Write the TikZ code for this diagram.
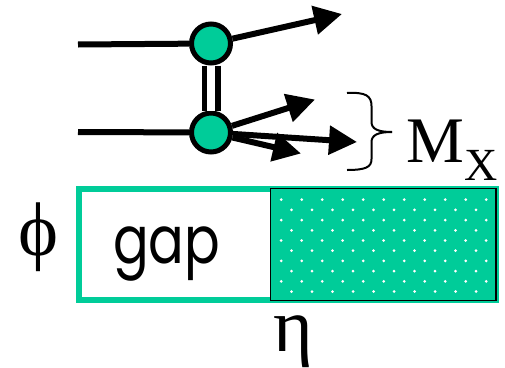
\documentclass[tikz,border=0pt]{standalone}
\usepackage{fontspec}
\setmainfont{Liberation Serif}
\newfontfamily\gapfont{Poppins}
\usetikzlibrary{arrows.meta}
\definecolor{jade}{RGB}{0,204,153}
\begin{document}
\begin{tikzpicture}[x=1pt,y=-1pt,
  vtx/.style={circle,draw=black,fill=jade,line width=5pt,minimum size=39pt,inner sep=0pt},
  leg/.style={line width=6pt},
  outarrow/.style={line width=6pt,-{Triangle[length=28pt,width=28pt]}},
  exch/.style={line width=5.5pt,double=white,double distance=8pt},
  lbl/.style={inner sep=0pt,anchor=base west}]
\useasboundingbox (0,0) rectangle (505,367);
% box
\fill[jade] (270.5,188.5) rectangle (496,300.5);
\begin{scope}
\clip (271,189) rectangle (495.5,300);
\foreach \r in {0,...,10}{
  \pgfmathsetmacro{\yy}{189.5+\r*10.2}
  \pgfmathsetmacro{\xo}{mod(\r,2)==0 ? 291.5 : 281.2}
  \foreach \c in {0,...,10}{
    \fill[white] (\xo+\c*20.5,\yy) circle (1.5pt);
  }
}
\end{scope}
\draw[jade,line width=6pt] (79,188.5) rectangle (496,300);
\draw[black,line width=1.5pt] (270.5,188.5) rectangle (496,300.5);
% vertices
\node[vtx] (v1) at (211,43.5) {};
\node[vtx] (v2) at (211,132.5) {};
\coordinate (in1) at (78,44.5);
\coordinate (in2) at (78,132);
\coordinate (t1) at (342,14);
\coordinate (t2) at (315,99.5);
\coordinate (t3) at (357,142);
\coordinate (t4) at (301,153.5);
\draw[leg] (in1) -- (v1);
\draw[leg] (in2) -- (v2);
\draw[exch] (v1) -- (v2);
\draw[outarrow] (v1) -- (t1);
\draw[outarrow] (v2) -- (t2);
\draw[outarrow] (v2) -- (t3);
\draw[outarrow] (v2) -- (t4);
% brace
\draw[line width=2pt] (347,93) .. controls (366,92) and (371.5,96) .. (371.5,106) -- (371.5,122) .. controls (371.5,129) and (378,132) .. (392,132);
\draw[line width=2pt] (392,132) .. controls (378,132) and (371.5,135) .. (371.5,142) -- (371.5,159) .. controls (371.5,167) and (366,170) .. (347,170);
% labels
\node[lbl] (mx) at (406,162) {\fontsize{65}{65}\selectfont M\raisebox{-18pt}{\fontsize{46}{46}\selectfont X}};
\node[lbl] (phi) at (18,255) {\fontsize{76}{76}\selectfont ϕ};
\node[lbl] (eta) at (273,351) {\fontsize{76}{76}\selectfont η};
\node[lbl] (gap) at (113,263) {\scalebox{0.8}[1]{\gapfont\fontsize{66}{66}\selectfont gap}};
\end{tikzpicture}
\end{document}
